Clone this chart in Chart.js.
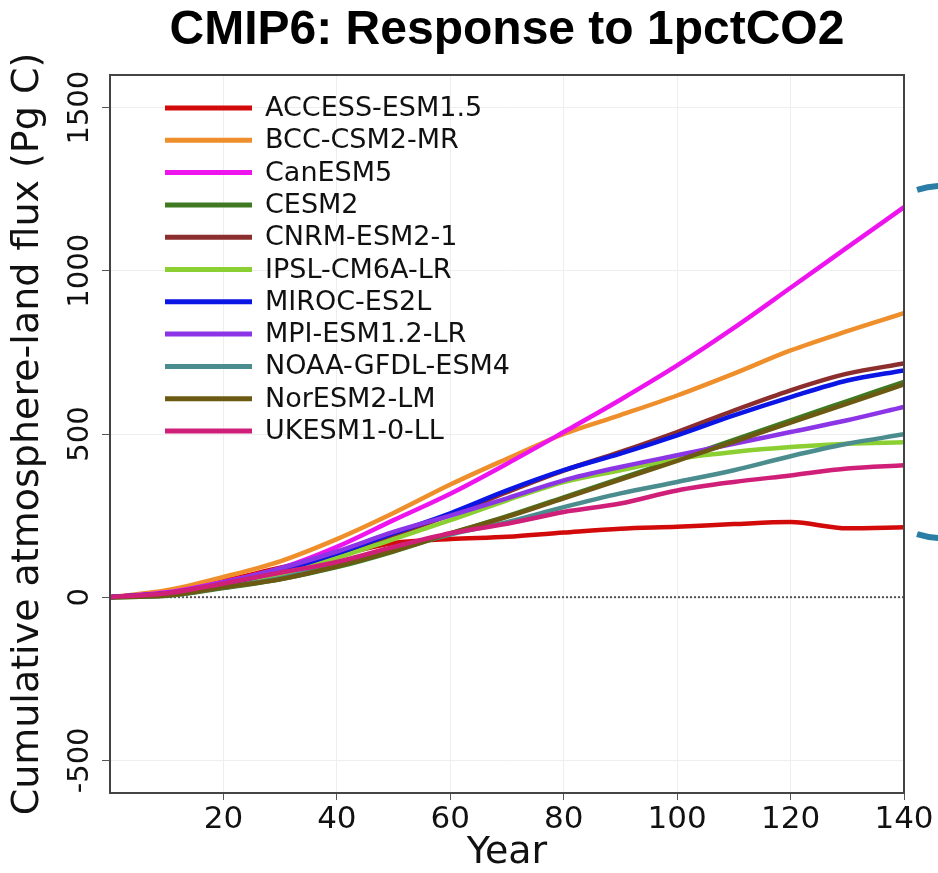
<!DOCTYPE html>
<html>
<head>
<meta charset="utf-8">
<title>CMIP6: Response to 1pctCO2</title>
<script src="https://cdn.jsdelivr.net/npm/chart.js@4.4.1/dist/chart.umd.min.js"></script>
<style>
  html, body { margin: 0; padding: 0; background: #fff; }
  #wrap { width: 938px; height: 873px; }
</style>
</head>
<body>
<div id="wrap"><canvas id="chart" width="938" height="873"></canvas></div>
<script>
// Cumulative atmosphere-land carbon flux (Pg C), sampled every 10 model years
const years = [0, 10, 20, 30, 40, 50, 60, 70, 80, 90, 100, 110, 120, 130, 140];

const accessEsm15 = [0, 15, 50, 90, 128, 166, 178, 185, 198, 210, 216, 224, 230, 211, 214];
const bccCsm2Mr   = [0, 21, 62, 110, 178, 258, 345, 424, 500, 558, 618, 685, 756, 815, 870];
const canEsm5     = [0, 15, 47, 88, 154, 236, 317, 409, 506, 605, 710, 825, 948, 1072, 1195];
const cesm2       = [0, 4, 28, 55, 92, 140, 195, 248, 306, 364, 422, 482, 542, 601, 660];
const cnrmEsm21   = [0, 12, 40, 78, 130, 190, 252, 322, 388, 445, 506, 572, 634, 685, 716];
const ipslCm6aLr  = [0, 8, 35, 70, 120, 178, 236, 297, 353, 389, 424, 445, 460, 470, 475];
const mirocEs2l   = [0, 12, 40, 80, 134, 196, 257, 327, 389, 440, 496, 557, 613, 664, 695];
const mpiEsm12Lr  = [0, 13, 45, 88, 140, 200, 250, 303, 358, 399, 435, 470, 506, 542, 583];
const noaaGfdl    = [0, 6, 30, 58, 100, 148, 192, 230, 276, 318, 353, 389, 432, 470, 499];
const norEsm2Lm   = [0, 5, 30, 55, 95, 142, 196, 246, 303, 360, 418, 476, 535, 593, 652];
const ukEsm10Ll   = [0, 12, 42, 75, 108, 154, 196, 225, 261, 287, 327, 353, 373, 394, 404];

const models = ['ACCESS-ESM1.5', 'BCC-CSM2-MR', 'CanESM5', 'CESM2', 'CNRM-ESM2-1',
  'IPSL-CM6A-LR', 'MIROC-ES2L', 'MPI-ESM1.2-LR', 'NOAA-GFDL-ESM4', 'NorESM2-LM', 'UKESM1-0-LL'];
const series = [accessEsm15, bccCsm2Mr, canEsm5, cesm2, cnrmEsm21, ipslCm6aLr,
  mirocEs2l, mpiEsm12Lr, noaaGfdl, norEsm2Lm, ukEsm10Ll];
const colors = ['#d20a0a', '#ef8f2c', '#ee14ee', '#3f7a22', '#8c2e2e', '#8ccf32',
  '#0b16e4', '#8b35e6', '#4b8d8f', '#6d5a12', '#d01f78'];

const xTicks = [20, 40, 60, 80, 100, 120, 140];
const yTicks = [-500, 0, 500, 1000, 1500];

const FONT = "'DejaVu Sans', sans-serif";

const datasets = series.map((vals, i) => ({
  label: models[i],
  data: years.map((yr, j) => ({ x: yr, y: vals[j] })),
  borderColor: colors[i],
  backgroundColor: colors[i],
  borderWidth: 4.5,
  pointRadius: 0,
  cubicInterpolationMode: 'monotone',
  order: series.length - i   // later models drawn on top
}));

// dotted zero line, drawn underneath everything
datasets.push({
  label: 'zero',
  data: [{ x: 0, y: 0 }, { x: 140, y: 0 }],
  borderColor: '#555',
  borderWidth: 2,
  borderDash: [2, 2],
  pointRadius: 0,
  order: 99
});

// box around the plot area
const frame = {
  id: 'frame',
  afterDatasetsDraw(chart) {
    const { ctx, chartArea: a } = chart;
    ctx.save();
    ctx.strokeStyle = '#444';
    ctx.lineWidth = 2;
    ctx.strokeRect(a.left, a.top, a.right - a.left, a.bottom - a.top);
    ctx.restore();
  }
};

// model legend in the upper-left corner of the plot
const modelLegend = {
  id: 'modelLegend',
  afterDraw(chart) {
    const { ctx, chartArea: a } = chart;
    const x0 = a.left + 55, y0 = a.top + 33, step = 32.3;
    ctx.save();
    ctx.font = '27px ' + FONT;
    ctx.textBaseline = 'middle';
    ctx.textAlign = 'left';
    models.forEach((name, i) => {
      const y = y0 + i * step;
      ctx.strokeStyle = colors[i];
      ctx.lineWidth = 5;
      ctx.beginPath();
      ctx.moveTo(x0, y);
      ctx.lineTo(x0 + 87, y);
      ctx.stroke();
      ctx.fillStyle = '#111';
      ctx.fillText(name, x0 + 100, y + 1);
    });
    ctx.restore();
  }
};

// blue bracket on the right margin
const bracket = {
  id: 'bracket',
  afterDraw(chart) {
    const { ctx, chartArea: a } = chart;
    const deg = Math.PI / 180;
    ctx.save();
    ctx.strokeStyle = '#2a7ea6';
    ctx.lineWidth = 6;
    ctx.beginPath();
    ctx.ellipse(a.right + 38, 362, 120, 176, 0, -102 * deg, 102 * deg);
    ctx.stroke();
    ctx.restore();
  }
};

new Chart(document.getElementById('chart'), {
  type: 'line',
  data: { datasets },
  options: {
    responsive: false,
    animation: false,
    layout: { padding: { left: 0, right: 34, top: 0, bottom: 0 } },
    plugins: {
      legend: { display: false },
      tooltip: { enabled: false },
      title: {
        display: true,
        fullSize: false,
        text: 'CMIP6: Response to 1pctCO2',
        color: '#000',
        font: { family: "'Liberation Sans', Arial, sans-serif", size: 48, weight: 'bold' },
        padding: { top: 2, bottom: 15.4 }
      }
    },
    scales: {
      x: {
        type: 'linear',
        min: 0,
        max: 140,
        afterBuildTicks: s => { s.ticks = xTicks.map(v => ({ value: v })); },
        afterFit: s => { s.height = 80; },
        ticks: {
          color: '#111',
          font: { family: FONT, size: 31 },
          padding: 1,
          maxRotation: 0,
          callback: v => String(v)
        },
        grid: { color: '#eeeeee', lineWidth: 1, tickColor: '#555', tickLength: 7 },
        border: { color: '#444', width: 2 },
        title: {
          display: true,
          text: 'Year',
          color: '#111',
          font: { family: FONT, size: 38 },
          padding: { top: 0, bottom: -3 }
        }
      },
      y: {
        type: 'linear',
        min: -600,
        max: 1600,
        afterBuildTicks: s => { s.ticks = yTicks.map(v => ({ value: v })); },
        afterFit: s => { s.width = 110; },
        ticks: {
          color: '#111',
          font: { family: FONT, size: 29 },
          minRotation: 90,
          maxRotation: 90,
          crossAlign: 'center',
          padding: -15,
          callback: v => String(v)
        },
        grid: { color: '#eeeeee', lineWidth: 1, tickColor: '#555', tickLength: 8 },
        border: { color: '#444', width: 2 },
        title: {
          display: true,
          text: 'Cumulative atmosphere-land flux (Pg C)',
          color: '#111',
          font: { family: FONT, size: 38 },
          padding: { top: 5, bottom: 0 }
        }
      }
    }
  },
  plugins: [frame, modelLegend, bracket]
});
</script>
</body>
</html>
